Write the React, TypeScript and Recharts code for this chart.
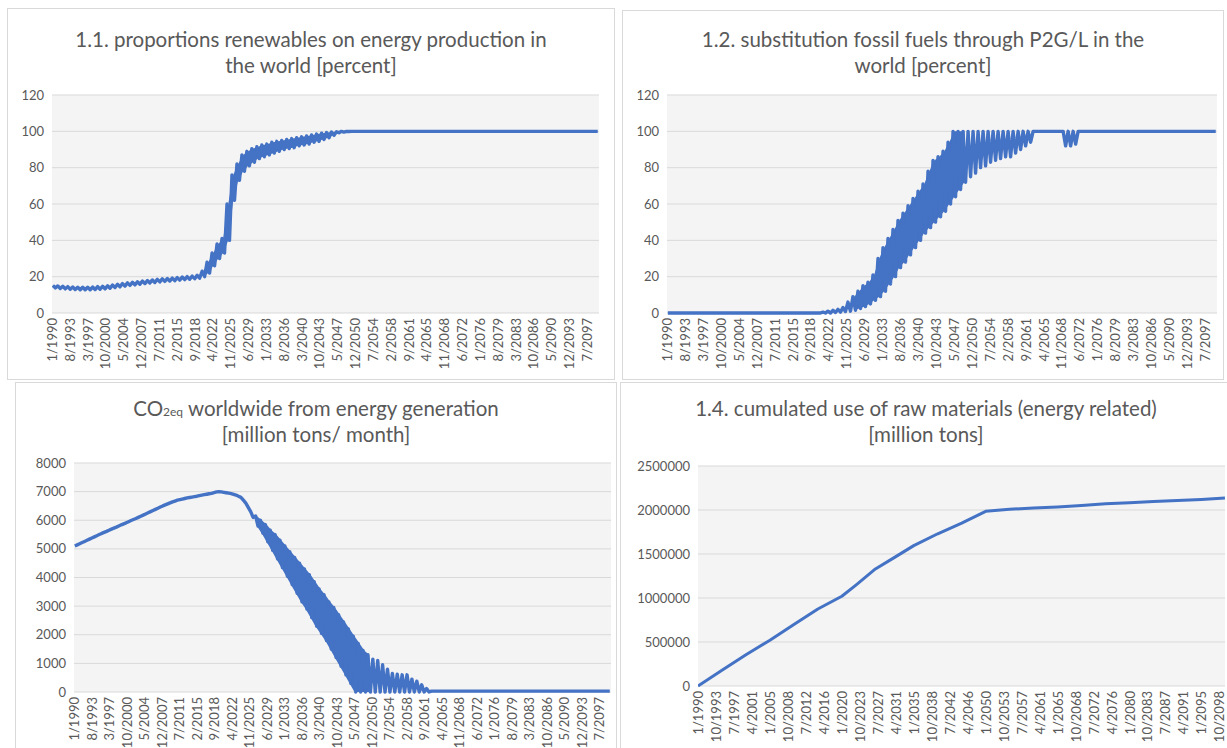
import { ComposedChart, Line, Area, XAxis, YAxis, CartesianGrid } from 'recharts'

// tick labels on the month axis
const TICKS_43 = ['1/1990', '8/1993', '3/1997', '10/2000', '5/2004', '12/2007', '7/2011', '2/2015', '9/2018', '4/2022', '11/2025', '6/2029', '1/2033', '8/2036', '3/2040', '10/2043', '5/2047', '12/2050', '7/2054', '2/2058', '9/2061', '4/2065', '11/2068', '6/2072', '1/2076', '8/2079', '3/2083', '10/2086', '5/2090', '12/2093', '7/2097']
const TICKS_45 = ['1/1990', '10/1993', '7/1997', '4/2001', '1/2005', '10/2008', '7/2012', '4/2016', '1/2020', '10/2023', '7/2027', '4/2031', '1/2035', '10/2038', '7/2042', '4/2046', '1/2050', '10/2053', '7/2057', '4/2061', '1/2065', '10/2068', '7/2072', '4/2076', '1/2080', '10/2083', '7/2087', '4/2091', '1/2095', '10/2098']

// yearly seasonal peak / trough, 1990..2099
const RENEW_HI = [
  15.2, 14.9, 14.7, 14.5, 14.3, 14.2, 14.2, 14.2, 14.3, 14.5,
  14.7, 15.0, 15.4, 15.8, 16.2, 16.6, 16.9, 17.2, 17.6, 17.9,
  18.2, 18.5, 18.8, 19.0, 19.2, 19.5, 19.8, 20.0, 20.3, 20.7,
  23, 28, 33, 38, 41, 60, 76, 82, 87, 89,
  90.5, 91.5, 92.5, 93, 94, 94.5, 95, 95.5, 96, 96.5,
  97, 97.5, 98, 98.5, 99, 99.3, 99.6, 99.8, 100, 100,
  100, 100, 100, 100, 100, 100, 100, 100, 100, 100,
  100, 100, 100, 100, 100, 100, 100, 100, 100, 100,
  100, 100, 100, 100, 100, 100, 100, 100, 100, 100,
  100, 100, 100, 100, 100, 100, 100, 100, 100, 100,
  100, 100, 100, 100, 100, 100, 100, 100, 100, 100,
]
const RENEW_LO = [
  13.8, 13.5, 13.3, 13.1, 12.9, 12.8, 12.8, 12.8, 12.9, 13.1,
  13.3, 13.6, 14.0, 14.4, 14.8, 15.2, 15.5, 15.8, 16.2, 16.5,
  16.8, 17.1, 17.4, 17.6, 17.8, 18.1, 18.4, 18.6, 18.9, 19.2,
  20, 22, 26, 30, 33, 40, 62, 73, 78, 81,
  83, 85, 86, 87, 88, 89, 90, 90.5, 91, 92,
  92.5, 93, 94, 94.5, 95.5, 96.5, 97.8, 99.2, 99.6, 99.9,
  100, 100, 100, 100, 100, 100, 100, 100, 100, 100,
  100, 100, 100, 100, 100, 100, 100, 100, 100, 100,
  100, 100, 100, 100, 100, 100, 100, 100, 100, 100,
  100, 100, 100, 100, 100, 100, 100, 100, 100, 100,
  100, 100, 100, 100, 100, 100, 100, 100, 100, 100,
]

const P2G_HI = [
  0, 0, 0, 0, 0, 0, 0, 0, 0, 0,
  0, 0, 0, 0, 0, 0, 0, 0, 0, 0,
  0, 0, 0, 0, 0, 0, 0, 0, 0, 0,
  0, 0.5, 1, 1.5, 2, 3, 6, 9, 12, 15,
  17, 21, 30, 36, 41, 46, 51, 55, 59, 63,
  67, 71, 78, 84, 86, 89, 94, 100, 100, 100,
  100, 100, 100, 100, 100, 100, 100, 100, 100, 100,
  100, 100, 100, 100, 100, 100, 100, 100, 100, 100,
  100, 100, 100, 100, 100, 100, 100, 100, 100, 100,
  100, 100, 100, 100, 100, 100, 100, 100, 100, 100,
  100, 100, 100, 100, 100, 100, 100, 100, 100, 100,
]
const P2G_LO = [
  0, 0, 0, 0, 0, 0, 0, 0, 0, 0,
  0, 0, 0, 0, 0, 0, 0, 0, 0, 0,
  0, 0, 0, 0, 0, 0, 0, 0, 0, 0,
  0, 0, 0, 0.3, 0.5, 0.8, 1, 1.5, 2.5, 3.5,
  5, 7, 9, 12, 16, 20, 25, 28, 32, 36,
  40, 44, 47, 50, 53, 56, 60, 64, 68, 72,
  75, 77, 80, 81, 83, 84, 85, 86, 86, 88,
  90, 92, 94, 100, 100, 100, 100, 100, 100, 92,
  92, 93, 100, 100, 100, 100, 100, 100, 100, 100,
  100, 100, 100, 100, 100, 100, 100, 100, 100, 100,
  100, 100, 100, 100, 100, 100, 100, 100, 100, 100,
]

const CO2_HI = [
  5100, 5180, 5260, 5340, 5420, 5500, 5575, 5650, 5725, 5800,
  5875, 5950, 6025, 6100, 6180, 6260, 6340, 6420, 6500, 6570,
  6640, 6700, 6740, 6780, 6810, 6840, 6880, 6910, 6940, 6990,
  6990, 6960, 6930, 6880, 6800, 6600, 6300, 6150, 6000, 5850,
  5650, 5500, 5300, 5100, 4900, 4700, 4500, 4300, 4100, 3850,
  3600, 3400, 3150, 2950, 2700, 2450, 2200, 1950, 1700, 1450,
  1300, 1150, 1100, 950, 800, 650, 620, 600, 600, 450,
  380, 250, 120, 30, 30, 30, 30, 30, 30, 30,
  30, 30, 30, 30, 30, 30, 30, 30, 30, 30,
  30, 30, 30, 30, 30, 30, 30, 30, 30, 30,
  30, 30, 30, 30, 30, 30, 30, 30, 30, 30,
]
const CO2_LO = [
  5140, 5220, 5300, 5380, 5460, 5540, 5610, 5690, 5760, 5840,
  5910, 5990, 6060, 6140, 6220, 6300, 6380, 6460, 6535, 6605,
  6670, 6720, 6760, 6795, 6825, 6860, 6895, 6925, 6965, 7000,
  6975, 6945, 6905, 6840, 6700, 6450, 6100, 5800, 5550, 5250,
  4950, 4650, 4350, 4050, 3750, 3450, 3150, 2900, 2600, 2300,
  2050, 1800, 1500, 1200, 900, 600, 300, 0, 0, 0,
  0, 0, 0, 0, 0, 0, 0, 0, 0, 0,
  0, 0, 0, 30, 30, 30, 30, 30, 30, 30,
  30, 30, 30, 30, 30, 30, 30, 30, 30, 30,
  30, 30, 30, 30, 30, 30, 30, 30, 30, 30,
  30, 30, 30, 30, 30, 30, 30, 30, 30, 30,
]

const MATERIAL_YEARS = [1990, 1995, 2000, 2005, 2010, 2015, 2020, 2023, 2027, 2031, 2035, 2040, 2045, 2050, 2055, 2060, 2065, 2070, 2075, 2080, 2085, 2090, 2095, 2099.9]
const MATERIAL = [0, 180000, 355000, 520000, 700000, 875000, 1020000, 1150000, 1330000, 1462000, 1595000, 1730000, 1850000, 1985000, 2008000, 2022000, 2035000, 2052000, 2070000, 2083000, 2097000, 2108000, 2120000, 2135000]

const PCT_TICKS = [0, 20, 40, 60, 80, 100, 120]
const CO2_TICKS = [0, 1000, 2000, 3000, 4000, 5000, 6000, 7000, 8000]
const MAT_TICKS = [0, 500000, 1000000, 1500000, 2000000, 2500000]

const BLUE = '#4472c4'
const GREY = '#595959'
const FONT = 'Lato, "Open Sans", sans-serif'
const LAST_MONTH = 1319

type Row = { m: number; v?: number; band?: [number, number] }

const monthOf = (label: string) => {
  const [m, y] = label.split('/').map(Number)
  return (y - 1990) * 12 + (m - 1)
}

// peak early in the year, trough in the second half; the dense years also
// get a filled band so the monthly swings read as a solid ribbon
const seasonal = (hi: number[], lo: number[], bandFrom: number, bandTo: number): Row[] => {
  const rows: Row[] = []
  hi.forEach((h, i) => {
    const year = 1990 + i
    rows.push({ m: i * 12 + 2, v: h })
    if (year >= bandFrom && year <= bandTo) rows.push({ m: i * 12 + 5, band: [lo[i], h] })
    rows.push({ m: i * 12 + 8, v: lo[i] })
  })
  return rows
}

const renewData = seasonal(RENEW_HI, RENEW_LO, 2020, 2047)
const p2gData = seasonal(P2G_HI, P2G_LO, 2027, 2049)
const co2Data = seasonal(CO2_HI, CO2_LO, 2027, 2050)
const materialData: Row[] = MATERIAL_YEARS.map((y, i) => ({ m: (y - 1990) * 12, v: MATERIAL[i] }))

function XTick(props: any) {
  const { x, y, payload, labels } = props
  const label = labels.find((l: string) => monthOf(l) === payload.value)
  return (
    <text
      x={x}
      y={y}
      transform={`rotate(-90 ${x} ${y})`}
      textAnchor="end"
      dominantBaseline="central"
      fontSize={13}
      fontFamily={FONT}
      fill={GREY}
    >
      {label}
    </text>
  )
}

interface PanelProps {
  left: number
  top: number
  width: number
  height: number
  title: [any, string]
  titleTop: number
  data: Row[]
  yTicks: number[]
  xLabels: string[]
  yWidth: number
  plotTop: number
  plotBottom: number
  rightGap: number
  lineWidth: number
}

function Panel(p: PanelProps) {
  const lineStyle = { height: 26, lineHeight: '26px', whiteSpace: 'nowrap' as const }
  const hasBand = p.data.some((r) => r.band)
  return (
    <div
      style={{
        position: 'absolute',
        left: p.left,
        top: p.top,
        width: p.width,
        height: p.height,
        boxSizing: 'border-box',
        border: '1px solid #d9d9d9',
        background: '#fff',
      }}
    >
      <div
        style={{
          position: 'absolute',
          left: 0,
          top: p.titleTop,
          width: '100%',
          textAlign: 'center',
          fontFamily: FONT,
          fontSize: 20.5,
          color: GREY,
        }}
      >
        <div style={lineStyle}>{p.title[0]}</div>
        <div style={lineStyle}>{p.title[1]}</div>
      </div>
      <div style={{ position: 'absolute', left: -1, top: -1 }}>
        <ComposedChart
          width={p.width}
          height={p.height}
          data={p.data}
          margin={{ top: p.plotTop, right: p.rightGap, bottom: 0, left: 0 }}
        >
          <CartesianGrid vertical={false} stroke="#d9d9d9" fill="#f4f4f4" />
          <XAxis
            type="number"
            dataKey="m"
            domain={[0, LAST_MONTH]}
            ticks={p.xLabels.map(monthOf)}
            interval={0}
            allowDataOverflow
            axisLine={false}
            tickLine={false}
            tickSize={0}
            tickMargin={5}
            height={p.height - p.plotBottom}
            tick={<XTick labels={p.xLabels} />}
          />
          <YAxis
            type="number"
            domain={[p.yTicks[0], p.yTicks[p.yTicks.length - 1]]}
            ticks={p.yTicks}
            interval={0}
            axisLine={false}
            tickLine={false}
            width={p.yWidth}
            tick={{ fontSize: 13, fill: GREY, fontFamily: FONT }}
          />
          {hasBand && (
            <Area
              type="linear"
              dataKey="band"
              stroke="none"
              fill={BLUE}
              fillOpacity={1}
              connectNulls
              dot={false}
              activeDot={false}
              isAnimationActive={false}
            />
          )}
          <Line
            type="linear"
            dataKey="v"
            stroke={BLUE}
            strokeWidth={p.lineWidth}
            strokeLinejoin="round"
            connectNulls
            dot={false}
            isAnimationActive={false}
          />
        </ComposedChart>
      </div>
    </div>
  )
}

export default function App() {
  return (
    <div style={{ position: 'relative', width: 1227, height: 748, overflow: 'hidden', background: '#fff' }}>
      <style>{'body{margin:0}'}</style>
      <Panel
        left={7}
        top={8}
        width={608}
        height={372}
        title={['1.1. proportions renewables on energy production in', 'the world [percent]']}
        titleTop={17}
        data={renewData}
        yTicks={PCT_TICKS}
        xLabels={TICKS_43}
        yWidth={45}
        plotTop={87}
        plotBottom={305}
        rightGap={16}
        lineWidth={3.4}
      />
      <Panel
        left={622}
        top={10}
        width={602}
        height={370}
        title={['1.2. substitution fossil fuels through P2G/L in the', 'world [percent]']}
        titleTop={15}
        data={p2gData}
        yTicks={PCT_TICKS}
        xLabels={TICKS_43}
        yWidth={45}
        plotTop={85}
        plotBottom={303}
        rightGap={7}
        lineWidth={3.4}
      />
      <Panel
        left={15}
        top={382}
        width={602}
        height={372}
        title={[
          <>
            CO<span style={{ fontSize: 12, lineHeight: 0 }}>2eq</span> worldwide from energy generation
          </>,
          '[million tons/ month]',
        ]}
        titleTop={12}
        data={co2Data}
        yTicks={CO2_TICKS}
        xLabels={TICKS_43}
        yWidth={59}
        plotTop={81}
        plotBottom={310}
        rightGap={6}
        lineWidth={3.4}
      />
      <Panel
        left={620}
        top={382}
        width={612}
        height={372}
        title={['1.4. cumulated use of raw materials (energy related)', '[million tons]']}
        titleTop={12}
        data={materialData}
        yTicks={MAT_TICKS}
        xLabels={TICKS_45}
        yWidth={78}
        plotTop={84}
        plotBottom={304}
        rightGap={7}
        lineWidth={3}
      />
    </div>
  )
}
